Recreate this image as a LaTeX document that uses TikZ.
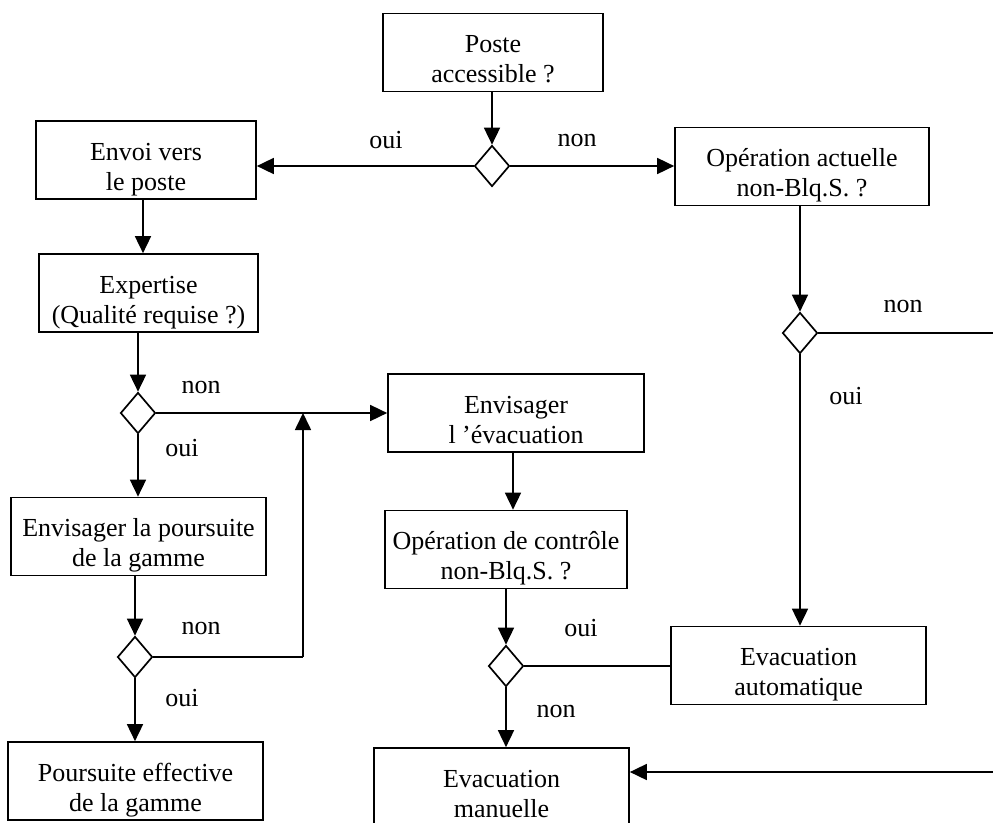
\documentclass[tikz,border=0pt]{standalone}
\usepackage{fontspec}
\setmainfont{Liberation Serif}
\usetikzlibrary{shapes.geometric,arrows.meta}
\newcommand\twolines[2]{\begin{tabular}{@{}c@{}}\rule{0pt}{39pt}#1\\#2\end{tabular}}
\begin{document}
\begin{tikzpicture}[x=1pt,y=-1pt,
  font=\fontsize{26}{30}\selectfont,
  box/.style={draw, line width=1.7pt, inner sep=0pt, minimum height=78pt},
  dia/.style={diamond, draw, line width=1.7pt, minimum width=35pt, minimum height=41pt, inner sep=0pt},
  arr/.style={line width=1.7pt, -{Triangle[length=17pt,width=16pt]}},
  ln/.style={line width=1.7pt},
  lbl/.style={inner sep=0pt}]
\clip (0,0) rectangle (993,822);
\fill[white] (0,0) rectangle (993,822);

% boxes
\node[box, minimum width=220pt] (poste) at (493,52.5) {\twolines{Poste}{accessible ?}};
\node[box, minimum width=220pt] (envoi) at (146,160) {\twolines{Envoi vers}{le poste}};
\node[box, minimum width=254pt] (actuelle) at (802,166.5) {\twolines{Opération actuelle}{non-Blq.S. ?}};
\node[box, minimum width=219pt] (expertise) at (148.5,293) {\twolines{Expertise}{(Qualité requise ?)}};
\node[box, minimum width=256pt] (envevac) at (516,413) {\twolines{Envisager}{l 'évacuation}};
\node[box, minimum width=255pt] (poursuite) at (138.5,536.5) {\twolines{Envisager la poursuite}{de la gamme}};
\node[box, minimum width=242pt] (controle) at (506,549.5) {\twolines{Opération de contrôle}{non-Blq.S. ?}};
\node[box, minimum width=255pt] (auto) at (798.5,665.5) {\twolines{Evacuation}{automatique}};
\node[box, minimum width=255pt] (effective) at (135.5,781) {\twolines{Poursuite effective}{de la gamme}};
\node[box, minimum width=255pt] (manuelle) at (501.5,787) {\twolines{Evacuation}{manuelle}};

% diamonds
\node[dia] (d1) at (492,166) {};
\node[dia] (d2) at (800,333) {};
\node[dia] (d3) at (138,413) {};
\node[dia] (d4) at (135,657) {};
\node[dia] (d5) at (506,666) {};

% free ends
\coordinate (J) at (303,413);
\coordinate (L) at (303,657);
\coordinate (R1) at (993,333);
\coordinate (R2) at (993,772);

% connectors
\draw[arr] (poste.south -| d1.north) -- (d1.north);
\draw[arr] (d1.west) -- (d1.west -| envoi.east);
\draw[arr] (d1.east) -- (d1.east -| actuelle.west);
\draw[arr] (envoi.south -| 143,0) -- (expertise.north -| 143,0);
\draw[arr] (expertise.south -| d3.north) -- (d3.north);
\draw[arr] (d3.east) -- (d3.east -| envevac.west);
\draw[arr] (d3.south) -- (d3.south |- poursuite.north);
\draw[arr] (poursuite.south -| d4.north) -- (d4.north);
\draw[ln] (d4.east) -- (L);
\draw[arr] (L) -- (J);
\draw[arr] (d4.south) -- (d4.south |- effective.north);
\draw[arr] (envevac.south -| 513,0) -- (controle.north -| 513,0);
\draw[arr] (controle.south -| d5.north) -- (d5.north);
\draw[ln] (d5.east) -- (d5.east -| auto.west);
\draw[arr] (d5.south) -- (d5.south |- manuelle.north);
\draw[arr] (actuelle.south -| d2.north) -- (d2.north);
\draw[ln] (d2.east) -- (R1);
\draw[arr] (d2.south) -- (d2.south |- auto.north);
\draw[arr] (R2) -- (R2 -| manuelle.east);

% labels
\node[lbl] (l1) at (386,140) {oui};
\node[lbl] (l2) at (577,140) {non};
\node[lbl] (l3) at (903,306) {non};
\node[lbl] (l4) at (846,396) {oui};
\node[lbl] (l5) at (201,387) {non};
\node[lbl] (l6) at (182,448) {oui};
\node[lbl] (l7) at (201,628) {non};
\node[lbl] (l8) at (182,698) {oui};
\node[lbl] (l9) at (581,628) {oui};
\node[lbl] (l10) at (556,711) {non};
\end{tikzpicture}
\end{document}
